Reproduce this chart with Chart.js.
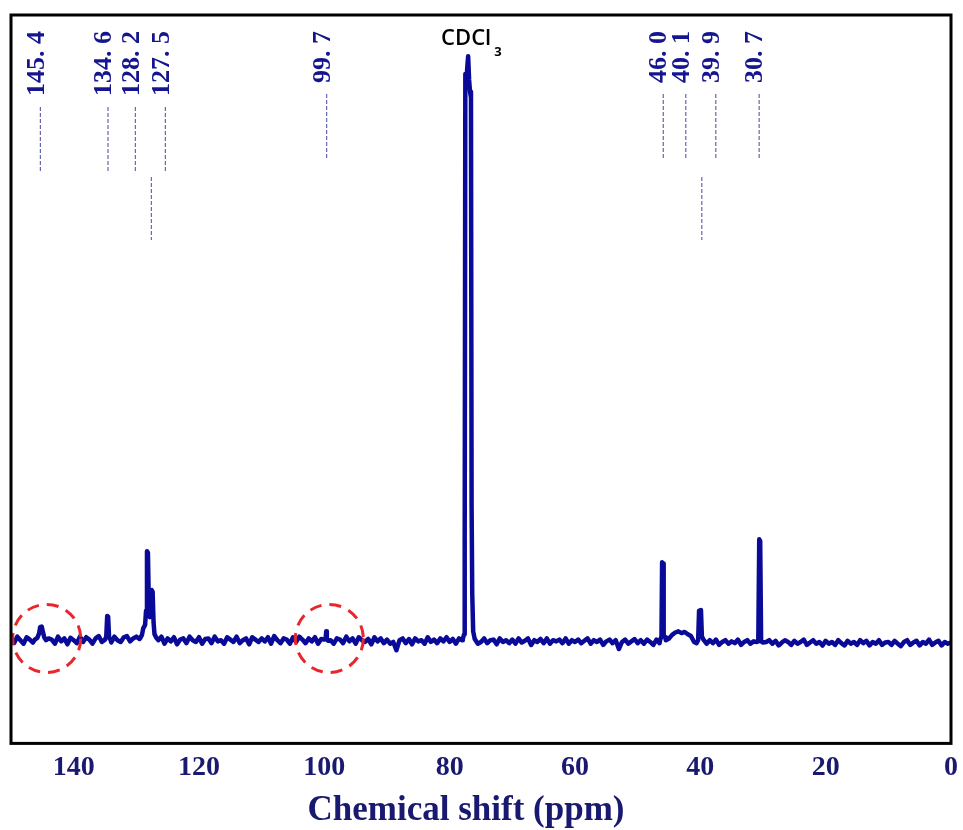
<!DOCTYPE html>
<html>
<head>
<meta charset="utf-8">
<title>13C NMR spectrum</title>
<script src="https://cdn.jsdelivr.net/npm/chart.js@4.4.1/dist/chart.umd.min.js"></script>
<style>
  html, body { margin: 0; padding: 0; background: #fff; }
  #wrap { width: 963px; height: 830px; }
</style>
</head>
<body>
<div id="wrap"><canvas id="nmrChart"></canvas></div>
<script>
// 13C spectrum in CDCl3, intensity in arbitrary units (solvent line ~ 99)

// baseline, one value every 0.5 ppm from 150 down to 0
const baseStart = 150;
const baseStep = 0.5;
const baseline = [
   0.3,-0.5, 0.6, 0.0,-0.6, 0.5, 0.1,-0.4, 0.7,-0.2, 0.4,-0.5, 0.3, 0.1,-0.6, 0.6,-0.2, 0.3,-0.7, 0.4,
   0.0,-0.5, 0.6,-0.3, 0.5, 0.1,-0.6, 0.3, 0.7,-0.3, 0.2, 0.5,-0.4, 0.6, 0.0,-0.3, 0.5, 0.7,-0.2, 0.3,
   0.6, 0.2, 0.8,-0.3, 0.5, 0.3,-0.5, 0.2, 0.6,-0.6, 0.3,-0.2, 0.5,-0.7, 0.1, 0.3,-0.5, 0.6, 0.0,-0.3,
   0.5,-0.6, 0.2, 0.3,-0.5, 0.6,-0.2, 0.0,-0.6, 0.5, 0.1,-0.3, 0.6,-0.5, 0.0, 0.3,-0.7, 0.5, 0.1,-0.3,
   0.3,-0.2, 0.5,-0.6, 0.7, 0.0,-0.5, 0.3, 0.1,-0.6, 0.5,-0.3, 0.6, 0.1,-0.5, 0.3,-0.2, 0.5,-0.6, 0.2,
  -0.3, 0.5, 0.0,-0.6, 0.3, 0.1,-0.5, 0.6,-0.2, 0.3,-0.6, 0.5, 0.0,-0.3, 0.2,-0.7, 0.5,-0.2, 0.3,-0.5,
   0.1,-0.6,-0.3,-1.7, 0.0, 0.3,-0.5, 0.2,-0.7, 0.3,-0.2, 0.0,-0.6, 0.5,-0.3, 0.1,-0.5, 0.3,-0.2, 0.5,
  -0.3, 0.2,-0.6, 0.3, 0.0,-0.5, 0.5,-0.2, 0.1,-0.6,-0.3, 0.3,-0.5, 0.0, 0.1,-0.7, 0.3,-0.3, 0.0,-0.5,
   0.1,-0.6, 0.3,-0.4,-0.1, 0.3,-0.8, 0.0,-0.3, 0.2,-0.5, 0.3,-0.6, 0.0,-0.2, 0.1,-0.5, 0.3,-0.6, 0.0,
  -0.3, 0.1,-0.5,-0.1, 0.3,-0.6, 0.0,-0.3, 0.1,-0.8,-0.2, 0.1,-0.5, 0.0,-1.5,-0.3, 0.1,-0.6,-0.2, 0.2,
  -0.5, 0.0,-0.6, 0.1,-0.3,-0.8, 0.1,-0.5,-0.9, 0.0, 0.3, 0.9, 1.3, 1.5, 1.2, 1.4, 1.0, 0.7,-0.3,-0.9,
  -0.3, 0.1,-0.6, 0.0,-0.5, 0.1,-0.8,-0.3, 0.0,-0.6,-0.2,-0.5, 0.1,-0.8,-0.3, 0.0,-0.6,-0.2,-0.5, 0.0,
  -0.7,-0.3, 0.0,-0.6,-0.1,-0.9,-0.4, 0.0,-0.3,-0.8,-0.1,-0.6,-0.3, 0.1,-0.8,-0.4, 0.0,-0.6,-0.3,-0.9,
  -0.1,-0.6,-0.3,-0.8, 0.0,-0.5,-0.9,-0.1,-0.6,-0.3,-0.8, 0.0,-0.5,-0.1,-0.9,-0.3,-0.6, 0.0,-0.8,-0.4,
  -0.3,-0.8,-0.1,-0.6,-1.0,-0.3, 0.0,-0.8,-0.4,-0.1,-0.9,-0.3,-0.6, 0.1,-0.8,-0.4,-0.1,-0.9,-0.3,-0.6,
  -0.4
];

// signals as [ppm, intensity], high field last
const peak145 = [[146.2, 0.1], [145.8, 0.4], [145.5, 1.2], [145.35, 2.2], [145.1, 2.3], [144.9, 1.4], [144.7, 0.5], [144.4, 0.0]];
const peak134 = [[135.0, 0.1], [134.8, 0.6], [134.65, 4.1], [134.5, 4.0], [134.35, 0.5], [134.1, 0.0]];
const peak128 = [[129.4, 0.3], [129.1, 0.9], [128.9, 2.0], [128.6, 2.6], [128.45, 5.0], [128.3, 15.1], [128.15, 14.8],
                 [128.0, 6.0], [127.85, 3.9], [127.7, 5.0], [127.55, 8.5], [127.4, 8.2], [127.25, 3.0], [127.1, 1.0],
                 [126.8, 0.4], [126.5, 0.0]];
const peak99 = [[100.0, 0.1], [99.8, 0.2], [99.7, 1.5], [99.6, 0.3], [99.4, -0.1]];
const peakSolvent = [[77.9, 0.2], [77.7, 1.0], [77.6, 17], [77.5, 96], [77.35, 94], [77.2, 97], [77.05, 99],
                     [76.9, 95], [76.75, 93], [76.6, 92], [76.5, 23], [76.4, 8], [76.25, 1.5], [76.0, 0.2]];
const peak46 = [[46.4, 0.1], [46.2, 0.6], [46.1, 13.2], [45.95, 13.0], [45.85, 0.8], [45.6, 0.5]];
const peak40 = [[40.6, -0.5], [40.35, 0.0], [40.2, 5.0], [40.05, 3.6], [39.9, 5.1], [39.75, 0.6], [39.5, 0.1]];
const peak30 = [[31.0, -0.3], [30.75, -0.2], [30.6, 17.1], [30.45, 16.8], [30.3, -0.2], [30.0, -0.4]];
const peakSegments = [peak145, peak134, peak128, peak99, peakSolvent, peak46, peak40, peak30];

// assignments printed above the spectrum
const peakLabels = ['145. 4', '134. 6', '128. 2', '127. 5', '99. 7', '46. 0', '40. 1', '39. 9', '30. 7'];
const peakLabelShifts = [145.4, 134.6, 128.2, 127.5, 99.7, 46.0, 40.1, 39.9, 30.7];
const solventShift = 77.05;
const circledShifts = [144.3, 99.2];

const tickValues = [140, 120, 100, 80, 60, 40, 20, 0];
const axisTitle = 'Chemical shift (ppm)';

// merge baseline and signals into one trace
function inSegment(ppm) {
  return peakSegments.some(seg => ppm <= seg[0][0] && ppm >= seg[seg.length - 1][0]);
}
const points = [];
baseline.forEach((v, i) => {
  const ppm = baseStart - i * baseStep;
  if (!inSegment(ppm)) points.push({ x: ppm, y: v });
});
peakSegments.forEach(seg => seg.forEach(([p, v]) => points.push({ x: p, y: v })));
points.sort((a, b) => b.x - a.x);

const labelBlue = '#15158f';
const axisBlue = '#191970';

const spectrumDecor = {
  id: 'spectrumDecor',
  afterDatasetsDraw(chart) {
    const { ctx, chartArea: a } = chart;
    const xs = chart.scales.x, ys = chart.scales.y;
    ctx.save();

    // dashed circles around the weak signals
    ctx.strokeStyle = '#e8262b';
    ctx.lineWidth = 3;
    ctx.setLineDash([12, 8]);
    circledShifts.forEach(s => {
      ctx.beginPath();
      ctx.arc(xs.getPixelForValue(s), ys.getPixelForValue(0.3), 34, 0, Math.PI * 2);
      ctx.stroke();
    });

    // box
    ctx.setLineDash([]);
    ctx.strokeStyle = '#000';
    ctx.lineWidth = 3;
    ctx.strokeRect(a.left, a.top, a.right - a.left, a.bottom - a.top);

    // peak labels: spread labels that sit too close together
    const items = peakLabelShifts.map((s, i) => ({ text: peakLabels[i], px: xs.getPixelForValue(s) }))
      .sort((p, q) => p.px - q.px);
    const groups = [];
    items.forEach(it => {
      const last = groups[groups.length - 1];
      if (last && it.px - last[last.length - 1].px < 20) last.push(it);
      else groups.push([it]);
    });
    ctx.font = 'bold 26px "Liberation Serif"';
    const top = a.top + 16;
    groups.forEach(g => {
      const mid = g.reduce((s, it) => s + it.px, 0) / g.length;
      g.forEach((it, k) => {
        const lx = g.length > 1 ? mid + (k - (g.length - 1) / 2) * 30 : it.px;
        const w = ctx.measureText(it.text).width;
        ctx.save();
        ctx.translate(lx - 3, top);
        ctx.rotate(-Math.PI / 2);
        ctx.fillStyle = labelBlue;
        ctx.textAlign = 'right';
        ctx.textBaseline = 'middle';
        ctx.fillText(it.text, 0, 0);
        ctx.restore();

        ctx.strokeStyle = '#4646a0';
        ctx.lineWidth = 1;
        ctx.setLineDash([4, 2]);
        ctx.beginPath();
        ctx.moveTo(lx + 0.5, top + w + 11);
        ctx.lineTo(lx + 0.5, top + w + 76);
        ctx.stroke();
      });
      if (g.length > 1) {
        ctx.beginPath();
        ctx.moveTo(mid + 1.5, a.top + 162);
        ctx.lineTo(mid + 1.5, a.top + 225);
        ctx.stroke();
      }
      ctx.setLineDash([]);
    });

    // solvent label
    const sx = xs.getPixelForValue(solventShift);
    ctx.fillStyle = '#000';
    ctx.font = '600 22px "Open Sans"';
    ctx.textAlign = 'left';
    ctx.textBaseline = 'alphabetic';
    const cw = ctx.measureText('CDCl').width;
    ctx.fillText('CDCl', sx - cw / 2 - 2, a.top + 30);
    ctx.font = 'bold 13px "Open Sans"';
    ctx.fillText('3', sx + cw / 2 + 1, a.top + 41);

    // axis title
    ctx.fillStyle = axisBlue;
    ctx.font = 'bold 35px "Liberation Serif"';
    ctx.textAlign = 'center';
    ctx.fillText(axisTitle, (a.left + a.right) / 2 - 15, 820);

    ctx.restore();
  }
};

new Chart(document.getElementById('nmrChart'), {
  type: 'line',
  data: {
    datasets: [{
      data: points,
      borderColor: '#0a0a98',
      borderWidth: 4.5,
      borderJoinStyle: 'round',
      borderCapStyle: 'round',
      pointRadius: 0,
      tension: 0,
      fill: false
    }]
  },
  options: {
    responsive: true,
    maintainAspectRatio: false,
    animation: false,
    layout: { padding: { left: 11, right: 12, top: 15, bottom: 42 } },
    plugins: { legend: { display: false }, tooltip: { enabled: false } },
    scales: {
      x: {
        type: 'linear',
        reverse: true,
        min: 0,
        max: 150,
        afterBuildTicks: scale => { scale.ticks = tickValues.map(v => ({ value: v })); },
        grid: { display: false, drawTicks: true, tickLength: 5 },
        border: { display: false },
        ticks: {
          color: axisBlue,
          padding: 3,
          autoSkip: false,
          maxRotation: 0,
          font: { family: 'Liberation Serif', size: 28, weight: 'bold' }
        }
      },
      y: {
        display: false,
        min: -17.5,
        max: 106
      }
    }
  },
  plugins: [spectrumDecor]
});
</script>
</body>
</html>
